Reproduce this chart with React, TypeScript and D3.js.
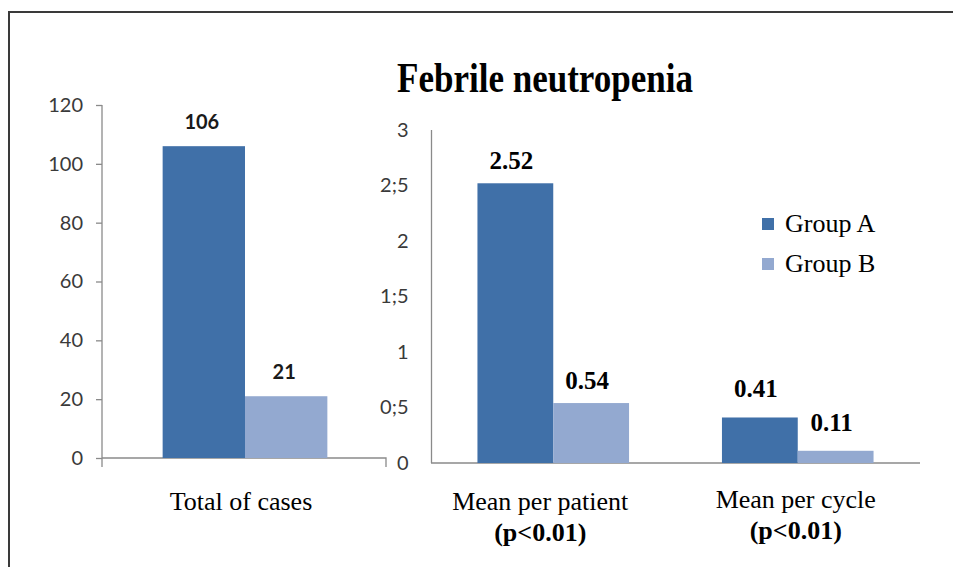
import React, { useEffect, useRef } from "react";
import * as d3 from "d3";

// Febrile neutropenia: total of cases (left panel) and means (right panel)
const groups = ["Group A", "Group B"];
const colors = ["#4070a8", "#93a9d0"];

const leftCategories = ["Total of cases"];
const leftA = [106];
const leftB = [21];
const leftTicks = [0, 20, 40, 60, 80, 100, 120];

const rightCategories = ["Mean per patient", "Mean per cycle"];
const rightSub = ["(p<0.01)", "(p<0.01)"];
const rightA = [2.52, 0.41];
const rightB = [0.54, 0.11];
const rightTicks = [0, 0.5, 1, 1.5, 2, 2.5, 3];
const rightTickLabels = ["0", "0;5", "1", "1;5", "2", "2;5", "3"];

const W = 953;
const H = 567;
const serif = "'Liberation Serif', 'Times New Roman', serif";
const sans = "Lato, 'Open Sans', sans-serif";
const axisColor = "#8a8a8a";
const tickColor = "#3a3a3a";

export default function App() {
  const ref = useRef<SVGSVGElement>(null);

  useEffect(() => {
    const svg = d3.select(ref.current);
    svg.selectAll("*").remove();
    svg.attr("width", W).attr("height", H);

    // frame (top and left edges visible)
    svg.append("path").attr("d", `M9,${H} V12 H${W}`).attr("fill", "none")
      .attr("stroke", "#3a3a3a").attr("stroke-width", 2);

    // title
    svg.append("text").attr("x", 545).attr("y", 92).attr("text-anchor", "middle")
      .attr("font-family", serif).attr("font-weight", "bold").attr("font-size", 42)
      .attr("textLength", 296).attr("lengthAdjust", "spacingAndGlyphs")
      .attr("fill", "#000").text("Febrile neutropenia");

    // ---------- left panel ----------
    const yL = d3.scaleLinear().domain([0, 120]).range([458, 105]);
    const xL = d3.scaleBand().domain(leftCategories).range([102, 386]);
    const gL = svg.append("g");

    const axL = gL.append("g").attr("transform", "translate(102,0)")
      .call(d3.axisLeft(yL).tickValues(leftTicks).tickSize(6).tickPadding(13));
    axL.select(".domain").remove();
    axL.selectAll(".tick line").attr("stroke", axisColor).attr("stroke-width", 1.3);
    axL.selectAll(".tick text").attr("font-family", sans).attr("font-size", 20)
      .attr("fill", tickColor);
    gL.append("line").attr("x1", 102).attr("x2", 102).attr("y1", yL(120)).attr("y2", yL(0) + 9)
      .attr("stroke", axisColor).attr("stroke-width", 1.3);
    gL.append("path").attr("d", `M102,${yL(0)} H386 V${yL(0) + 9}`).attr("fill", "none")
      .attr("stroke", axisColor).attr("stroke-width", 1.3);

    const subL = d3.scaleBand().domain(groups).range([0, xL.bandwidth() * 0.58]);
    const offL = (xL.bandwidth() - subL.range()[1]) / 2 + 1;
    leftCategories.forEach((c, i) => {
      const vals = [leftA[i], leftB[i]];
      vals.forEach((v, j) => {
        const x0 = (xL(c) as number) + offL + (subL(groups[j]) as number);
        gL.append("rect").attr("x", x0).attr("y", yL(v)).attr("width", subL.bandwidth())
          .attr("height", yL(0) - yL(v)).attr("fill", colors[j]);
        gL.append("text").attr("x", x0 + subL.bandwidth() / 2 - 2).attr("y", yL(v) - 17)
          .attr("text-anchor", "middle").attr("font-family", sans).attr("font-weight", "bold")
          .attr("font-size", 20).attr("fill", "#1a1a1a").text(String(v));
      });
      gL.append("text").attr("x", (xL(c) as number) + xL.bandwidth() / 2 - 3).attr("y", 510)
        .attr("text-anchor", "middle").attr("font-family", serif).attr("font-size", 26)
        .attr("fill", "#000").text(c);
    });

    // ---------- right panel ----------
    const yR = d3.scaleLinear().domain([0, 3]).range([463, 130]);
    const xR = d3.scaleBand().domain(rightCategories).range([431, 920]);
    const gR = svg.append("g");

    const axR = gR.append("g").attr("transform", "translate(431.5,0)")
      .call(d3.axisLeft(yR).tickValues(rightTicks).tickSize(0).tickPadding(23)
        .tickFormat((_d, i) => rightTickLabels[i]));
    axR.select(".domain").remove();
    axR.selectAll(".tick text").attr("font-family", sans).attr("font-size", 20)
      .attr("fill", tickColor);
    gR.append("line").attr("x1", 431.5).attr("x2", 431.5).attr("y1", yR(3)).attr("y2", yR(0))
      .attr("stroke", axisColor).attr("stroke-width", 1.3);
    gR.append("line").attr("x1", 431).attr("x2", 920).attr("y1", yR(0)).attr("y2", yR(0))
      .attr("stroke", axisColor).attr("stroke-width", 1.3);

    const subR = d3.scaleBand().domain(groups).range([0, xR.bandwidth() * 0.62]);
    const offR = (xR.bandwidth() - subR.range()[1]) / 2;
    const labelShift = [-13, -2];
    const lineOne = [510, 508];
    const valueGap = [14, 20];
    rightCategories.forEach((c, i) => {
      const vals = [rightA[i], rightB[i]];
      vals.forEach((v, j) => {
        const x0 = (xR(c) as number) + offR + (subR(groups[j]) as number);
        gR.append("rect").attr("x", x0).attr("y", yR(v)).attr("width", subR.bandwidth())
          .attr("height", yR(0) - yR(v)).attr("fill", colors[j]);
        gR.append("text").attr("x", x0 + subR.bandwidth() / 2 - 4).attr("y", yR(v) - valueGap[i])
          .attr("text-anchor", "middle").attr("font-family", serif).attr("font-weight", "bold")
          .attr("font-size", 25).attr("fill", "#000").text(v.toFixed(2));
      });
      const cx = (xR(c) as number) + xR.bandwidth() / 2 + labelShift[i];
      gR.append("text").attr("x", cx).attr("y", lineOne[i]).attr("text-anchor", "middle")
        .attr("font-family", serif).attr("font-size", 26).attr("fill", "#000").text(c);
      gR.append("text").attr("x", cx).attr("y", lineOne[i] + 31).attr("text-anchor", "middle")
        .attr("font-family", serif).attr("font-weight", "bold").attr("font-size", 26)
        .attr("fill", "#000").text(rightSub[i]);
    });

    // legend
    const lg = svg.append("g").attr("transform", "translate(762,218)");
    groups.forEach((gname, i) => {
      lg.append("rect").attr("x", 0).attr("y", i * 40).attr("width", 12).attr("height", 12)
        .attr("fill", colors[i]);
      lg.append("text").attr("x", 23).attr("y", i * 40 + 14).attr("font-family", serif)
        .attr("font-size", 26).attr("fill", "#000").text(gname);
    });
  }, []);

  return <svg ref={ref} style={{ position: "absolute", left: 0, top: 0 }} />;
}
